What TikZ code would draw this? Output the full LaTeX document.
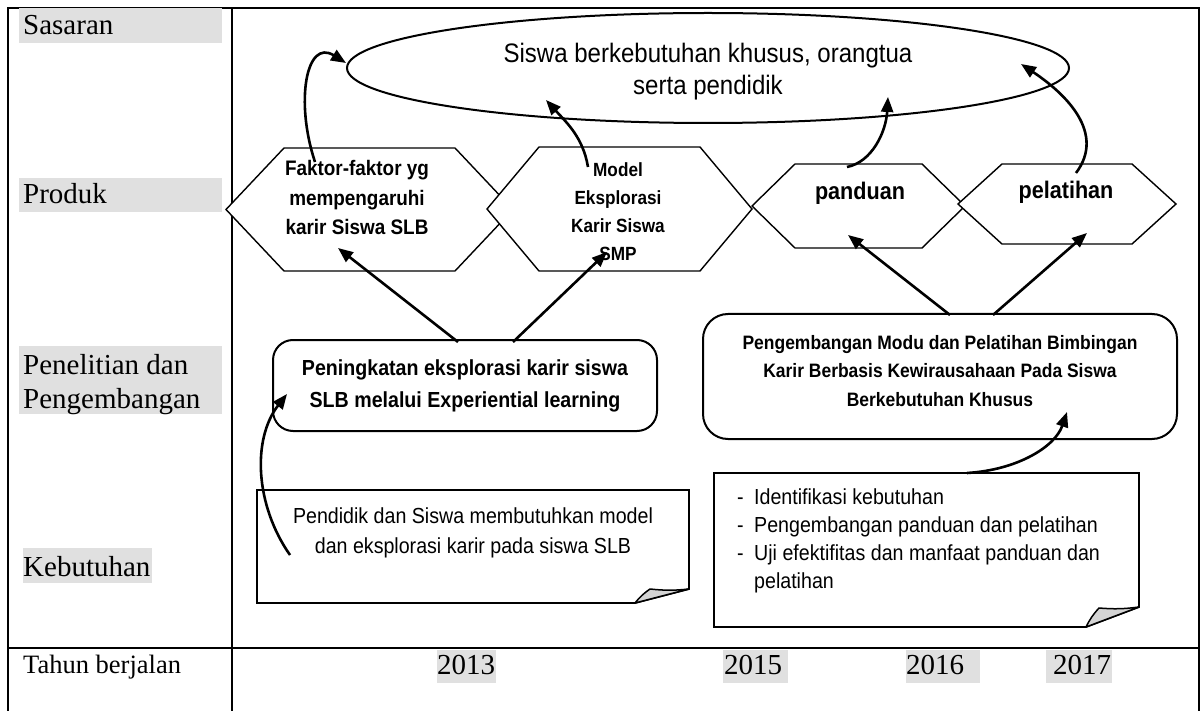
\documentclass[tikz,border=0pt]{standalone}
\usepackage{fontspec}
\setmainfont{Liberation Serif}
\newfontfamily\sansf[FakeStretch=0.9]{Liberation Sans}
\usetikzlibrary{shapes.geometric,arrows.meta,calc}
\definecolor{lblgray}{HTML}{E0E0E0}
\definecolor{foldgray}{HTML}{D4D4D4}
\newcommand\myhex[6]{%
  \node[hexbox, minimum width={#4-#2}, minimum height={#5-#3}] (#1) at ({(#2+#4)/2},{(#3+#5)/2}) {};
  \draw[hexline] (#1.west) -- ([xshift=#6]#1.north west) -- ([xshift=-#6]#1.north east) -- (#1.east) -- ([xshift=-#6]#1.south east) -- ([xshift=#6]#1.south west) -- cycle;}
\begin{document}
\begin{tikzpicture}[x=1pt,y=-1pt,
  frame/.style={line width=2.5pt},
  lbl/.style={inner sep=0pt, font=\fontsize{29}{34}\selectfont},
  yr/.style={inner sep=0pt, anchor=base west, font=\fontsize{29}{34}\selectfont},
  hexbox/.style={inner sep=0pt, outer sep=0pt},
  hexline/.style={line width=1.4pt, fill=white, line join=miter},
  btext/.style={inner sep=0pt, align=center, anchor=base},
  rbox/.style={draw, line width=2pt, inner sep=0pt, outer sep=0pt},
  notebox/.style={inner sep=0pt, outer sep=0pt},
  noteline/.style={line width=1.8pt, line join=miter},
  foldline/.style={line width=1.5pt, fill=foldgray, line join=round},
  arr/.style={line width=2.6pt, -{Triangle[length=15pt,width=12pt]}}
]
\useasboundingbox (0,0) rectangle (1202,711);
\fill[white] (0,0) rectangle (1202,711);

% frame
\draw[frame] (8,711) -- (8,8) -- (1199,8) -- (1199,711);
\draw[frame] (232,8) -- (232,711);
\draw[frame] (8,648) -- (1199,648);

% row labels
\fill[lblgray] (19,8) rectangle (222,43);
\node[lbl, anchor=base west] (lsas) at (23,35) {Sasaran};
\fill[lblgray] (19,178) rectangle (222,212);
\node[lbl, anchor=base west] (lprod) at (23,204) {Produk};
\fill[lblgray] (19,346) rectangle (222,414);
\node[lbl, anchor=base west] (lpen1) at (23,374) {Penelitian dan};
\node[lbl, anchor=base west] (lpen2) at (23,408) {Pengembangan};
\fill[lblgray] (23,548) rectangle (152,583);
\node[lbl, anchor=base west] (lkeb) at (23,576) {Kebutuhan};
\node[lbl, anchor=base west, font=\fontsize{26.5}{30}\selectfont] (ltahun) at (23,673) {Tahun berjalan};

% years
\fill[lblgray] (437,650) rectangle (496,683);
\node[yr] (y13) at (437,674) {2013};
\fill[lblgray] (723,650) rectangle (788,683);
\node[yr] (y15) at (724,674) {2015};
\fill[lblgray] (906,650) rectangle (980,683);
\node[yr] (y16) at (906,674) {2016};
\fill[lblgray] (1046,650) rectangle (1112,683);
\node[yr] (y17) at (1053,674) {2017};

% target ellipse
\node[ellipse, draw, line width=2pt, minimum width=722, minimum height=110, inner sep=0pt] (sas) at (708,68) {};
\node[btext, font=\sansf\fontsize{26.7}{32}\selectfont] (sast) at (708,95) {Siswa berkebutuhan khusus, orangtua\\serta pendidik};

% products (hexagons)
\myhex{h1}{226}{148}{513}{271}{58}
\myhex{h2}{487}{147}{752}{271}{52}
\myhex{h3}{752}{164}{965}{248}{43}
\myhex{h4}{958}{164}{1176}{244}{44}
\node[btext, font=\sansf\bfseries\fontsize{21}{29.5}\selectfont] (h1t) at (357,235) {Faktor-faktor yg\\mempengaruhi\\karir Siswa SLB};
\node[btext, font=\sansf\bfseries\fontsize{19.1}{28}\selectfont] (h2t) at (618,261) {Model\\Eksplorasi\\Karir Siswa\\SMP};
\node[btext, font=\sansf\bfseries\fontsize{24}{28}\selectfont] (h3t) at (860,200) {panduan};
\node[btext, font=\sansf\bfseries\fontsize{24}{28}\selectfont] (h4t) at (1066,199) {pelatihan};

% research boxes
\node[rbox, rounded corners=20pt, minimum width=384, minimum height=91] (b1) at (465,385.5) {};
\node[btext, font=\sansf\bfseries\fontsize{21.8}{32}\selectfont] (b1t) at (465,407) {Peningkatan eksplorasi karir siswa\\SLB melalui Experiential learning};
\node[rbox, rounded corners=25pt, minimum width=474, minimum height=125] (b2) at (940,376.5) {};
\node[btext, font=\sansf\bfseries\fontsize{19.4}{28.5}\selectfont] (b2t) at (940,406) {Pengembangan Modu dan Pelatihan Bimbingan\\Karir Berbasis Kewirausahaan Pada Siswa\\Berkebutuhan Khusus};

% needs notes
\node[notebox, minimum width=432, minimum height=113] (n1) at (473,546.5) {};
\draw[noteline] ($(n1.south east)+(-54,0)$) -- (n1.south west) -- (n1.north west) -- (n1.north east) -- ($(n1.south east)+(0,-14)$) -- cycle;
\filldraw[foldline] ($(n1.south east)+(-54,0)$) to[bend left=8] ($(n1.south east)+(-39,-14)$) to[bend right=6] ($(n1.south east)+(0,-14)$) -- cycle;
\node[btext, font=\sansf\fontsize{21.8}{30}\selectfont] (n1t) at (473,553) {Pendidik dan Siswa membutuhkan model\\dan eksplorasi karir pada siswa SLB};

\node[notebox, minimum width=425, minimum height=154] (n2) at (926.5,550) {};
\draw[noteline] ($(n2.south east)+(-53,0)$) -- (n2.south west) -- (n2.north west) -- (n2.north east) -- ($(n2.south east)+(0,-20)$) -- cycle;
\filldraw[foldline] ($(n2.south east)+(-53,0)$) to[bend left=8] ($(n2.south east)+(-40,-19)$) to[bend right=6] ($(n2.south east)+(0,-20)$) -- cycle;
\node[inner sep=0pt, align=left, anchor=base west, font=\sansf\fontsize{21.8}{28}\selectfont] (n2t) at (737,588)
 {\makebox[17pt][l]{-}Identifikasi kebutuhan\\\makebox[17pt][l]{-}Pengembangan panduan dan pelatihan\\\makebox[17pt][l]{-}Uji efektifitas dan manfaat panduan dan\\\hspace*{17pt}pelatihan};

% arrows to target
\draw[arr] ([shift={(-54.5,-47.5)}]h1.center) .. controls +(-20,-60) and +(-40,-25) .. ([shift={(0,-5)}]sas.west);
\draw[arr] ([shift={(-31.5,-42)}]h2.center) .. controls +(-5,-30) and +(20,22) .. ([shift={(-162,32)}]sas.center);
\draw[arr] ([shift={(-11.5,-39)}]h3.center) .. controls +(25,-5) and +(-2,35) .. ([shift={(180,29)}]sas.center);
\draw[arr] ([shift={(9,-31)}]h4.center) .. controls +(30,-40) and +(45,30) .. ([shift={(313,-4)}]sas.center);

% arrows research -> products
\draw[arr] ([shift={(-7,2)}]b1.north) -- ([shift={(-31.5,38.5)}]h1.center);
\draw[arr] ([shift={(48,2)}]b1.north) -- ([shift={(-12.5,43)}]h2.center);
\draw[arr] ([shift={(10,1)}]b2.north) -- ([shift={(-10.5,29)}]h3.center);
\draw[arr] ([shift={(53,1)}]b2.north) -- ([shift={(20,29)}]h4.center);

% arrows needs -> research
\draw[arr] ([shift={(-183,8.5)}]n1.center) .. controls +(-35,-50) and +(-35,45) .. ([shift={(-178,8.5)}]b1.center);
\draw[arr] ([shift={(40.5,0)}]n2.north) .. controls +(50,-3) and +(-12,35) .. ([shift={(127,35.5)}]b2.center);
\end{tikzpicture}
\end{document}
